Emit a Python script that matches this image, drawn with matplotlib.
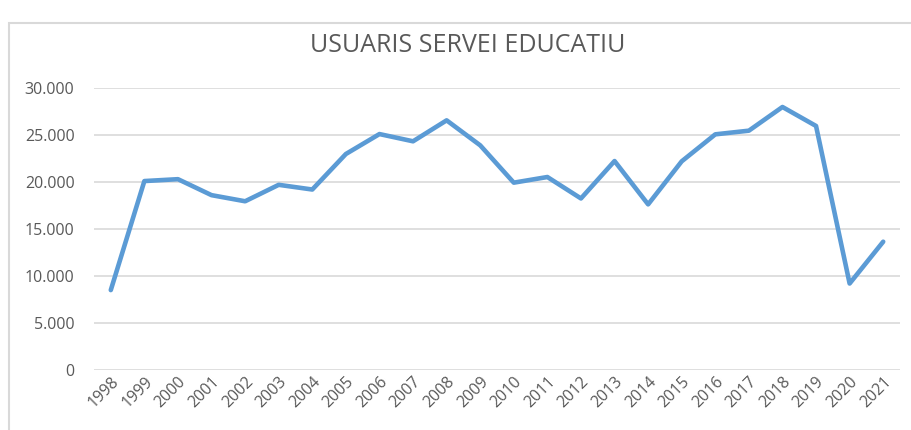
import numpy as np
import matplotlib.pyplot as plt
from matplotlib.patches import Rectangle
from matplotlib.ticker import FuncFormatter

anys = [str(a) for a in range(1998, 2022)]
usuaris = [8500, 20100, 20300, 18600, 17950, 19700, 19200, 22980, 25100, 24330,
           26560, 23900, 19930, 20530, 18250, 22230, 17620, 22200, 25070, 25460,
           27980, 25960, 9200, 13650]

gris = '#595959'
plt.rcParams['font.family'] = ['Open Sans', 'DejaVu Sans']

fig = plt.figure(figsize=(9.11, 4.30), dpi=100)
# marc del grafic (retallat a dreta i a baix)
fig.patches.append(Rectangle((9 / 911, -0.1), 1.0, 1 - 23 / 430 + 0.1,
                             transform=fig.transFigure, fill=False,
                             edgecolor='#d9d9d9', linewidth=1.5))

ax = fig.add_axes([94 / 911, 1 - 370 / 430, 806 / 911, (370 - 88) / 430])
x = np.arange(len(anys))
ax.plot(x, usuaris, color='#5b9bd5', linewidth=3.3, solid_joinstyle='round',
        solid_capstyle='round', zorder=3)

ax.set_xlim(-0.5, len(anys) - 0.5)
ax.set_ylim(0, 30000)
ax.set_yticks(np.arange(0, 30001, 5000))
ax.yaxis.set_major_formatter(FuncFormatter(lambda v, p: f'{int(v):,}'.replace(',', '.')))
ax.set_xticks(x)
ax.set_xticklabels(anys, rotation=45, ha='right', rotation_mode='anchor')
ax.grid(axis='y', color='#d9d9d9', linewidth=1.2)
ax.set_axisbelow(True)
for s in ax.spines.values():
    s.set_visible(False)
ax.tick_params(length=0, colors=gris, labelsize=11.5)
ax.tick_params(axis='y', pad=14)
ax.tick_params(axis='x', pad=3)

fig.text(468 / 911, 1 - 46 / 430, 'USUARIS SERVEI EDUCATIU', ha='center', va='center',
         fontsize=18, color=gris)

fig.savefig('out.png', dpi=100)
